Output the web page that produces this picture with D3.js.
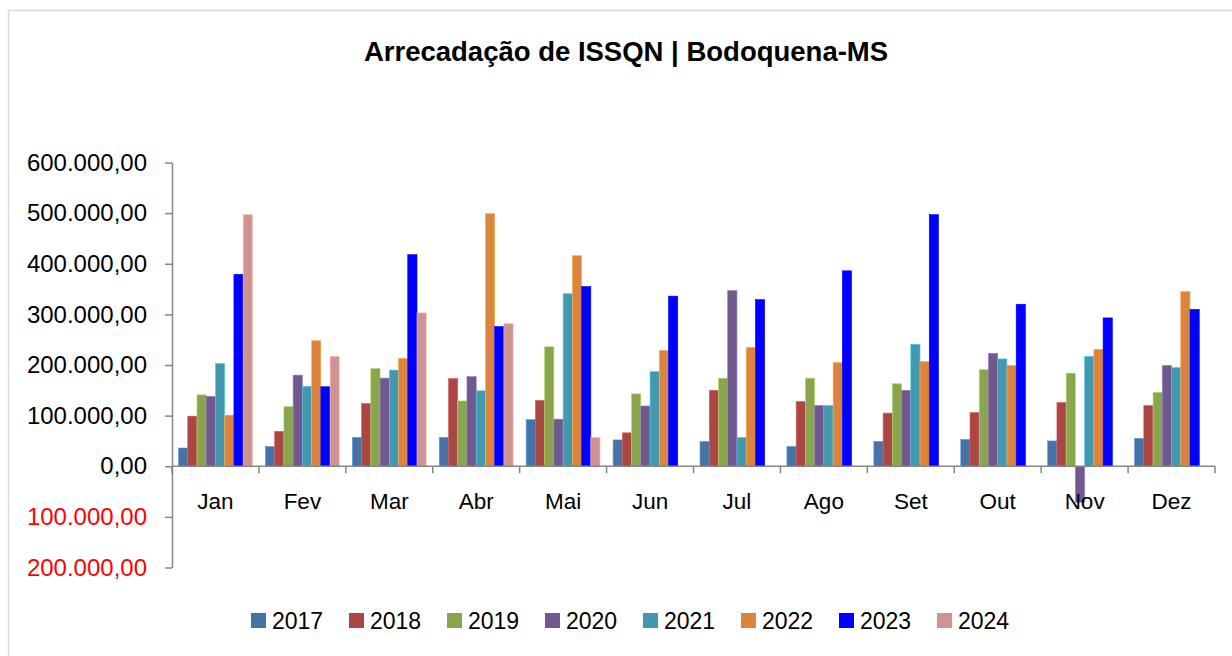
<!DOCTYPE html>
<html>
<head>
<meta charset="utf-8">
<script src="https://cdn.jsdelivr.net/npm/d3@7"></script>
<style>
body { margin: 0; background: #fff; }
text { font-family: "Liberation Sans", Arial, sans-serif; }
</style>
</head>
<body>
<div id="chart"></div>
<script>
// values (R$)
const months = ["Jan", "Fev", "Mar", "Abr", "Mai", "Jun", "Jul", "Ago", "Set", "Out", "Nov", "Dez"];
const years = ["2017", "2018", "2019", "2020", "2021", "2022", "2023", "2024"];
const yTicks = [-200000, -100000, 0, 100000, 200000, 300000, 400000, 500000, 600000];

const v2017 = [36000, 39000, 57000, 57000, 92000, 52000, 49000, 39000, 49000, 53000, 50000, 55000];
const v2018 = [99000, 69000, 124000, 173000, 130000, 66000, 150000, 128000, 105000, 106000, 126000, 120000];
const v2019 = [141000, 118000, 193000, 129000, 236000, 143000, 174000, 174000, 163000, 191000, 184000, 146000];
const v2020 = [138000, 180000, 174000, 177000, 93000, 119000, 347000, 120000, 150000, 223000, -71000, 199000];
const v2021 = [203000, 158000, 190000, 149000, 341000, 187000, 57000, 120000, 241000, 212000, 217000, 195000];
const v2022 = [101000, 248000, 213000, 499000, 416000, 229000, 235000, 205000, 207000, 199000, 231000, 345000];
const v2023 = [379000, 157000, 418000, 276000, 355000, 336000, 329000, 386000, 497000, 320000, 293000, 310000];
const v2024 = [497000, 217000, 303000, 282000, 57000, null, null, null, null, null, null, null];

const series = [v2017, v2018, v2019, v2020, v2021, v2022, v2023, v2024];
const colors = ["#4572A7", "#AA4643", "#89A54E", "#71588F", "#4198AF", "#DB843D", "#0000FF", "#D09392"];

const width = 1232, height = 656;

const svg = d3.select("#chart").append("svg")
    .attr("width", width)
    .attr("height", height);

// outer chart frame
svg.append("rect")
    .attr("x", 8.5)
    .attr("y", 10.5)
    .attr("width", 1300)
    .attr("height", 700)
    .attr("fill", "#fff")
    .attr("stroke", "#d9d9d9")
    .attr("stroke-width", 1.5);

svg.append("text")
    .attr("x", 626)
    .attr("y", 61)
    .attr("text-anchor", "middle")
    .style("font-size", "27.5px")
    .style("font-weight", "bold")
    .text("Arrecadação de ISSQN | Bodoquena-MS");

const x0 = d3.scaleBand()
    .domain(months)
    .range([172, 1215])
    .paddingInner(0.15)
    .paddingOuter(0.075);

const x1 = d3.scaleBand()
    .domain(years)
    .range([0, x0.bandwidth()]);

const y = d3.scaleLinear()
    .domain([-200000, 600000])
    .range([567.5, 162.5]);

const br = d3.formatLocale({decimal: ",", thousands: ".", grouping: [3], currency: ["R$", ""]});
const fmt = br.format(",.2f");

// y axis
const yAxis = d3.axisLeft(y)
    .tickValues(yTicks)
    .tickSize(7)
    .tickSizeOuter(0)
    .tickPadding(18)
    .tickFormat(d => fmt(Math.abs(d)));

const gy = svg.append("g")
    .attr("transform", "translate(172,0)")
    .call(yAxis);
gy.select(".domain").attr("stroke", "#868686").attr("stroke-width", 1.5);
gy.selectAll(".tick line").attr("stroke", "#868686").attr("stroke-width", 1.5);
gy.selectAll(".tick text")
    .style("font-size", "24px")
    .attr("fill", d => d < 0 ? "#FF0000" : "#000");

// bars
const rows = months.map((m, i) => ({month: m, values: years.map((yr, j) => ({year: yr, value: series[j][i]}))}));

const groups = svg.selectAll("g.month")
    .data(rows)
    .enter()
    .append("g")
    .attr("class", "month")
    .attr("transform", d => "translate(" + x0(d.month) + ",0)");

groups.selectAll("rect")
    .data(d => d.values.filter(v => v.value !== null))
    .enter()
    .append("rect")
    .attr("x", d => x1(d.year))
    .attr("width", x1.bandwidth())
    .attr("y", d => y(Math.max(0, d.value)))
    .attr("height", d => Math.abs(y(d.value) - y(0)))
    .attr("fill", (d, i) => colors[years.indexOf(d.year)])
    .attr("stroke", d => d3.color(colors[years.indexOf(d.year)]).brighter(0.8))
    .attr("stroke-width", 0.6);

// category axis
const xAxis = d3.axisBottom(x0)
    .tickSize(0)
    .tickPadding(27);

const gx = svg.append("g")
    .attr("transform", "translate(0," + y(0) + ")")
    .call(xAxis);
gx.select(".domain").remove();
gx.selectAll(".tick text").style("font-size", "22.5px").attr("fill", "#000");

svg.append("line")
    .attr("x1", 172)
    .attr("x2", 1215)
    .attr("y1", y(0))
    .attr("y2", y(0))
    .attr("stroke", "#868686")
    .attr("stroke-width", 1.5);

svg.selectAll("line.cat-tick")
    .data(d3.range(months.length + 1))
    .enter()
    .append("line")
    .attr("class", "cat-tick")
    .attr("x1", i => x0.range()[0] + i * x0.step())
    .attr("x2", i => x0.range()[0] + i * x0.step())
    .attr("y1", y(0))
    .attr("y2", y(0) + 7)
    .attr("stroke", "#868686")
    .attr("stroke-width", 1.5);

// legend
const lx = d3.scaleLinear().domain([0, 1]).range([251, 349]);

const legend = svg.selectAll("g.legend")
    .data(years)
    .enter()
    .append("g")
    .attr("class", "legend")
    .attr("transform", (d, i) => "translate(" + lx(i) + ",613)");

legend.append("rect")
    .attr("width", 15)
    .attr("height", 15)
    .attr("fill", (d, i) => colors[i]);

legend.append("text")
    .attr("x", 21)
    .attr("y", 16)
    .style("font-size", "23px")
    .text(d => d);
</script>
</body>
</html>
